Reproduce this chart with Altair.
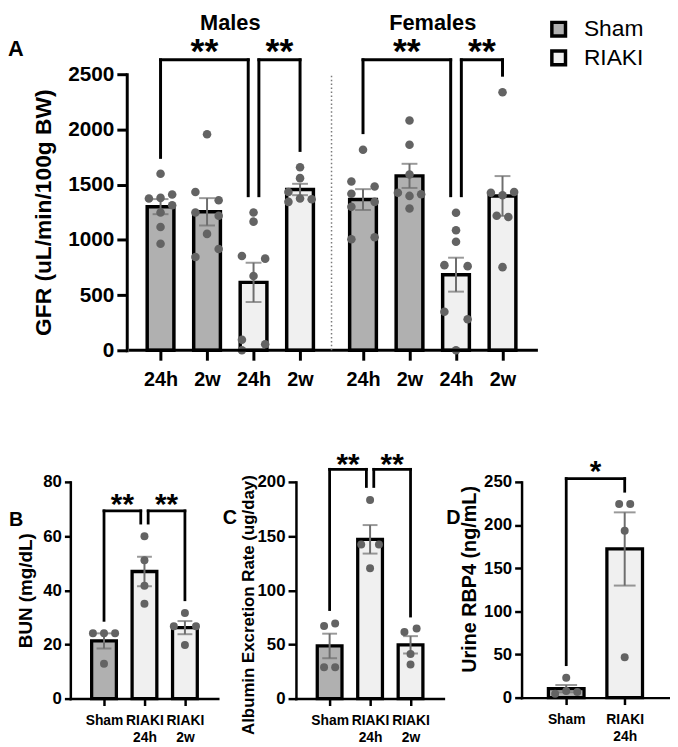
import json
import pandas as pd
import altair as alt

FONT = "Liberation Sans"
BLACK = "#000000"
SHAM_FILL = "#b0b0b0"
RIAKI_FILL = "#f0f0f0"
DOT_COLOR = "#636363"
ERR_COLOR = "#6e6e6e"

# ---------------- Panel A : GFR ----------------
sexes = ["Males", "Females"]
gfr_groups = ["Sham 24h", "Sham 2w", "RIAKI 24h", "RIAKI 2w"]
gfr_treat = ["Sham", "Sham", "RIAKI", "RIAKI"]
gfr_tick_labels = ["24h", "2w", "24h", "2w"]

m_sham_24h = [1598, 1410, 1380, 1374, 1314, 1248, 1117, 965]
m_sham_24h_col = [0, 1, 0, -1, 1, 0, 0, 0]
m_sham_2w = [1956, 1434, 1359, 1248, 1219, 1054, 917, 845]
m_sham_2w_col = [0, -1, 1, -1, 1, 0, 1, -1]
m_riaki_24h = [1248, 1165, 854, 830, 672, 96, 54, 0]
m_riaki_24h_col = [0, 0, -1, 1, 0, -1, 1, -1]
m_riaki_2w = [1658, 1559, 1434, 1374, 1368, 1344]
m_riaki_2w_col = [0, 0, -1, 0, 1, -1]

f_sham_24h = [1816, 1529, 1484, 1418, 1344, 1299, 1024, 1006]
f_sham_24h_col = [0, -1, 1, -1, 1, -1, 1, -1]
f_sham_2w = [2081, 1861, 1592, 1427, 1413, 1398, 1284]
f_sham_2w_col = [0, 0, 0, -1, 1, 0, 0]
f_riaki_24h = [1245, 1087, 983, 771, 762, 349, 281, 0]
f_riaki_24h_col = [0, 0, 0, -1, 1, -1, 1, 0]
f_riaki_2w = [2336, 1434, 1427, 1404, 1219, 1207, 753]
f_riaki_2w_col = [0, 1, -1, 0, -0.5, 0.5, 0]

gfr_br_sex = ["Males", "Males", "Females", "Females"]
gfr_br_from = ["Sham 24h", "RIAKI 24h", "Sham 24h", "RIAKI 24h"]
gfr_br_to = ["RIAKI 24h", "RIAKI 2w", "RIAKI 24h", "RIAKI 2w"]
gfr_br_top = [2630, 2630, 2630, 2630]
gfr_br_left_end = [1747, 1400, 1971, 1400]
gfr_br_right_end = [1400, 1810, 1400, 2491]
gfr_br_label = ["**", "**", "**", "**"]
gfr_y_ticks = [0, 500, 1000, 1500, 2000, 2500]

# ---------------- Panel B : BUN ----------------
bun_groups = ["Sham", "RIAKI 24h", "RIAKI 2w"]
bun_treat = ["Sham", "RIAKI", "RIAKI"]
bun_sham = [24.1, 24.1, 24.1, 12.9]
bun_sham_col = [-1, 0, 1, 0]
bun_riaki_24h = [59.9, 51.1, 41.7, 35.0]
bun_riaki_24h_col = [0, 0, 0, 0]
bun_riaki_2w = [31.6, 26.7, 26.7, 19.8]
bun_riaki_2w_col = [0, -1, 1, 0]
bun_br_from = ["Sham", "RIAKI 24h"]
bun_br_to = ["RIAKI 24h", "RIAKI 2w"]
bun_br_top = [69.3, 69.3]
bun_br_left_end = [28.9, 64.8]
bun_br_right_end = [64.8, 36.5]
bun_br_label = ["**", "**"]
bun_y_ticks = [0, 20, 40, 60, 80]

# ---------------- Panel C : Albumin ----------------
alb_groups = ["Sham", "RIAKI 24h", "RIAKI 2w"]
alb_treat = ["Sham", "RIAKI", "RIAKI"]
alb_sham = [67.0, 69.4, 29.0, 29.0]
alb_sham_col = [-0.5, 0.5, -0.5, 0.5]
alb_riaki_24h = [183.3, 142.2, 142.2, 120.3]
alb_riaki_24h_col = [0, -0.8, 0.8, 0]
alb_riaki_2w = [61.5, 64.6, 41.1, 31.4]
alb_riaki_2w_col = [-0.55, 0.55, 0, 0]
alb_br_from = ["Sham", "RIAKI 24h"]
alb_br_to = ["RIAKI 24h", "RIAKI 2w"]
alb_br_top = [211.6, 211.6]
alb_br_left_end = [82.2, 195.8]
alb_br_right_end = [195.8, 76.2]
alb_br_label = ["**", "**"]
alb_y_ticks = [0, 50, 100, 150, 200]

# ---------------- Panel D : RBP4 ----------------
rbp_groups = ["Sham", "RIAKI 24h"]
rbp_treat = ["Sham", "RIAKI"]
rbp_sham = [22.9, 4.6, 7.7, 6.5]
rbp_sham_col = [0, -1, 0, 1]
rbp_riaki_24h = [224.4, 224.4, 193.4, 46.9]
rbp_riaki_24h_col = [-0.5, 0.5, 0, 0]
rbp_br_from = ["Sham"]
rbp_br_to = ["RIAKI 24h"]
rbp_br_top = [253.8]
rbp_br_left_end = [38.2]
rbp_br_right_end = [239.2]
rbp_br_label = ["*"]
rbp_y_ticks = [0, 50, 100, 150, 200, 250]

treat_domain = ["Sham", "RIAKI"]
fill_scale = alt.Scale(domain=treat_domain, range=[SHAM_FILL, RIAKI_FILL])


def bracket_frame(keys_from, keys_to, pos_of, tops, lefts, rights, labels, gap):
    rows = []
    for i, (a, b) in enumerate(zip(keys_from, keys_to)):
        x1 = pos_of[a]
        x2 = pos_of[b]
        others_to = [keys_to[j] for j in range(len(keys_to)) if j != i]
        others_from = [keys_from[j] for j in range(len(keys_from)) if j != i]
        if a in others_to:
            x1 += gap
        if b in others_from:
            x2 -= gap
        rows.append(dict(x1=x1, x2=x2, xm=(x1 + x2) / 2, ytop=tops[i],
                         yl=lefts[i], yr=rights[i], label=labels[i]))
    return pd.DataFrame(rows)


def bracket_layers(df, X, Y, width, star_size, star_dy):
    base = alt.Chart(df)
    left = base.mark_rule(color=BLACK, strokeWidth=width, strokeCap="square").encode(
        x=X("x1"), y=Y("yl"), y2="ytop")
    right = base.mark_rule(color=BLACK, strokeWidth=width, strokeCap="square").encode(
        x=X("x2"), y=Y("yr"), y2="ytop")
    top = base.mark_rule(color=BLACK, strokeWidth=width, strokeCap="square").encode(
        x=X("x1"), x2="x2", y=Y("ytop"))
    txt = base.mark_text(fontSize=star_size, fontWeight="bold", font=FONT, color=BLACK,
                         baseline="alphabetic", align="center", dy=star_dy).encode(
        x=X("xm"), y=Y("ytop"), text="label:N")
    return [left, right, top, txt]


def letter_layer(letter, x_px, y_px, size):
    return alt.Chart(pd.DataFrame({"t": [letter]})).mark_text(
        fontSize=size, fontWeight="bold", font=FONT, color=BLACK, align="left",
        baseline="middle").encode(x=alt.value(x_px), y=alt.value(y_px), text="t:N")


# ---------- build panel A ----------
FEMALE_SHIFT = 4.354
A_STEP = 48.0
A_INDENT = 57  # px between the lower row's left edge and panel A's y axis
gfr_data = {
    ("Males", "Sham 24h"): (m_sham_24h, m_sham_24h_col),
    ("Males", "Sham 2w"): (m_sham_2w, m_sham_2w_col),
    ("Males", "RIAKI 24h"): (m_riaki_24h, m_riaki_24h_col),
    ("Males", "RIAKI 2w"): (m_riaki_2w, m_riaki_2w_col),
    ("Females", "Sham 24h"): (f_sham_24h, f_sham_24h_col),
    ("Females", "Sham 2w"): (f_sham_2w, f_sham_2w_col),
    ("Females", "RIAKI 24h"): (f_riaki_24h, f_riaki_24h_col),
    ("Females", "RIAKI 2w"): (f_riaki_2w, f_riaki_2w_col),
}
rows = []
pos_of_A = {}
tick_pos = []
tick_lab = []
for sex, shift in zip(sexes, [0.0, FEMALE_SHIFT]):
    for gi, g in enumerate(gfr_groups):
        p = round(gi + shift, 3)
        pos_of_A[(sex, g)] = p
        tick_pos.append(p)
        tick_lab.append(gfr_tick_labels[gi])
        vals, cols = gfr_data[(sex, g)]
        for v, c in zip(vals, cols):
            rows.append(dict(sex=sex, group=g, treat=gfr_treat[gi], pos=p, value=v, col=c))
gfr_df = pd.DataFrame(rows)

A_AXIS_LEFT = -0.646
A_AXIS_RIGHT = 8.083
xA_scale = alt.Scale(domain=[A_AXIS_LEFT - A_INDENT / A_STEP, A_AXIS_RIGHT], nice=False, zero=False)
yA_scale = alt.Scale(domain=[gfr_y_ticks[0], gfr_y_ticks[-1]], nice=False)
xA_axis = alt.Axis(values=tick_pos,
                   labelExpr=f"{json.dumps(tick_lab)}[indexof({json.dumps(tick_pos)}, datum.value)]",
                   title=None, domain=False, tickSize=10, tickWidth=3, labelFontSize=20,
                   labelPadding=10, labelFlush=False, labelOverlap=False, grid=False)
yA_axis = alt.Axis(values=gfr_y_ticks, format="d", title="GFR (uL/min/100g BW)", tickSize=10,
                   tickWidth=3, domainWidth=3, domainCap="square", labelFontSize=21,
                   labelPadding=3, titleFontSize=23, titlePadding=12, labelFlush=False,
                   grid=False, offset=-A_INDENT)


def XA(f):
    return alt.X(f"{f}:Q", scale=xA_scale, axis=xA_axis)


def YA(f):
    return alt.Y(f"{f}:Q", scale=yA_scale, axis=yA_axis, stack=None)


baseA = alt.Chart(gfr_df)
legendA = alt.Legend(orient="none", legendX=482, legendY=-57, title=None, symbolType="square",
                     symbolSize=190, symbolStrokeColor=BLACK, symbolStrokeWidth=3.5,
                     symbolOpacity=1, labelFontSize=23, labelFont=FONT, labelFontWeight="normal",
                     labelColor=BLACK, labelOffset=14, rowPadding=0, padding=0)
barsA = baseA.transform_aggregate(m="mean(value)", groupby=["pos", "treat"]).mark_bar(
    size=27, stroke=BLACK, strokeWidth=3.5).encode(
    x=XA("pos"), y=YA("m"), fill=alt.Fill("treat:N", scale=fill_scale, legend=legendA))
errA = baseA.transform_aggregate(m="mean(value)", se="stderr(value)", groupby=["pos"]).transform_calculate(
    lo="datum.m - datum.se", hi="datum.m + datum.se")
stemA = errA.mark_rule(color=ERR_COLOR, strokeWidth=2).encode(x=XA("pos"), y=YA("lo"), y2="hi")
capsA = errA.transform_fold(["lo", "hi"], as_=["end", "yv"]).mark_tick(
    orient="horizontal", size=16, thickness=2, color=ERR_COLOR).encode(x=XA("pos"), y=YA("yv"))
ptsA = baseA.transform_calculate(jx=f"datum.pos + datum.col * {12 / A_STEP}").mark_circle(
    size=75, color=DOT_COLOR, opacity=1).encode(x=XA("jx"), y=YA("value"))

# x-axis base line (drawn from the y axis to the right end)
base_df = pd.DataFrame({"x0": [A_AXIS_LEFT], "x1": [A_AXIS_RIGHT], "y": [gfr_y_ticks[0]]})
baseLineA = alt.Chart(base_df).mark_rule(color=BLACK, strokeWidth=3, strokeCap="square").encode(
    x=XA("x0"), x2="x1", y=YA("y"))

div_df = pd.DataFrame({"x": [(tick_pos[3] + tick_pos[4]) / 2], "y0": [gfr_y_ticks[0]],
                       "y1": [gfr_y_ticks[-1]]})
divA = alt.Chart(div_df).mark_rule(color="#7a7a7a", strokeWidth=1.5, strokeDash=[1.5, 2.5]).encode(
    x=XA("x"), y=YA("y0"), y2="y1")

sex_df = pd.DataFrame({"sex": sexes,
                       "xc": [sum(tick_pos[0:4]) / 4, sum(tick_pos[4:8]) / 4]})
sexA = alt.Chart(sex_df).mark_text(fontSize=22, fontWeight="bold", font=FONT, color=BLACK,
                                   baseline="middle").encode(
    x=XA("xc"), y=alt.value(-52), text="sex:N")

brA_df = bracket_frame([(s, a) for s, a in zip(gfr_br_sex, gfr_br_from)],
                       [(s, b) for s, b in zip(gfr_br_sex, gfr_br_to)],
                       pos_of_A, gfr_br_top, gfr_br_left_end, gfr_br_right_end, gfr_br_label,
                       5.5 / A_STEP)
brA = bracket_layers(brA_df, XA, YA, 3, 36, 3)

panelA = alt.layer(barsA, stemA, capsA, ptsA, baseLineA, divA, *brA, sexA,
                   letter_layer("A", -63, -25, 22)).properties(width=476, height=279)


# ---------- small panels ----------
def small_panel(groups, treats, series, cols, br_from, br_to, br_top, br_left, br_right, br_label,
                y_title, y_ticks, width, height, x_domain, step_px, bar_size, cap_px,
                y_tick_size, y_label_size, y_title_size, y_title_pad, y_title_y, star_size,
                star_dy, letter, letter_x, letter_y):
    rows = []
    pos_of = {}
    for gi, g in enumerate(groups):
        pos_of[g] = gi
        for v, c in zip(series[gi], cols[gi]):
            rows.append(dict(group=g, treat=treats[gi], pos=gi, value=v, col=c))
    df = pd.DataFrame(rows)
    xs = alt.Scale(domain=x_domain, nice=False, zero=False)
    ys = alt.Scale(domain=[y_ticks[0], y_ticks[-1]], nice=False)
    xa = alt.Axis(values=list(range(len(groups))),
                  labelExpr=f"split({json.dumps(groups)}[round(datum.value)], ' ')",
                  title=None, tickSize=7, tickWidth=2.5, domainWidth=2.5, domainCap="square",
                  labelFontSize=14, labelPadding=8, labelLineHeight=17, labelFlush=False,
                  labelOverlap=False, grid=False)
    ya_kw = dict(values=y_ticks, format="d", title=y_title, tickSize=y_tick_size, tickWidth=2.5,
                 domainWidth=2.5, domainCap="square", labelFontSize=y_label_size,
                 labelPadding=3, titleFontSize=y_title_size, titlePadding=y_title_pad,
                 labelFlush=False, grid=False)
    if y_title_y is not None:
        ya_kw["titleY"] = y_title_y
    ya = alt.Axis(**ya_kw)

    def X(f):
        return alt.X(f"{f}:Q", scale=xs, axis=xa)

    def Y(f):
        return alt.Y(f"{f}:Q", scale=ys, axis=ya, stack=None)

    base = alt.Chart(df)
    bars = base.transform_aggregate(m="mean(value)", groupby=["pos", "treat"]).mark_bar(
        size=bar_size, stroke=BLACK, strokeWidth=3.3).encode(
        x=X("pos"), y=Y("m"), fill=alt.Fill("treat:N", scale=fill_scale, legend=None))
    err = base.transform_aggregate(m="mean(value)", se="stderr(value)", groupby=["pos"]).transform_calculate(
        lo="datum.m - datum.se", hi="datum.m + datum.se")
    stem = err.mark_rule(color=ERR_COLOR, strokeWidth=2).encode(x=X("pos"), y=Y("lo"), y2="hi")
    caps = err.transform_fold(["lo", "hi"], as_=["end", "yv"]).mark_tick(
        orient="horizontal", size=cap_px, thickness=2, color=ERR_COLOR).encode(x=X("pos"), y=Y("yv"))
    pts = base.transform_calculate(jx=f"datum.pos + datum.col * {12 / step_px}").mark_circle(
        size=65, color=DOT_COLOR, opacity=1).encode(x=X("jx"), y=Y("value"))
    br_df = bracket_frame(br_from, br_to, pos_of, br_top, br_left, br_right, br_label,
                          4 / step_px)
    br = bracket_layers(br_df, X, Y, 2.8, star_size, star_dy)
    return alt.layer(bars, stem, caps, pts, *br, letter_layer(letter, letter_x, letter_y, 20)).properties(
        width=width, height=height)


panelB = small_panel(bun_groups, bun_treat, [bun_sham, bun_riaki_24h, bun_riaki_2w],
                     [bun_sham_col, bun_riaki_24h_col, bun_riaki_2w_col],
                     bun_br_from, bun_br_to, bun_br_top, bun_br_left_end, bun_br_right_end,
                     bun_br_label, "BUN (mg/dL)", bun_y_ticks, 149, 219, [-0.71, 2.69], 43.8,
                     25, 15, 6, 17, 19, 7, None, 30, 3, "B", -62, 39)
panelC = small_panel(alb_groups, alb_treat, [alb_sham, alb_riaki_24h, alb_riaki_2w],
                     [alb_sham_col, alb_riaki_24h_col, alb_riaki_2w_col],
                     alb_br_from, alb_br_to, alb_br_top, alb_br_left_end, alb_br_right_end,
                     alb_br_label, "Albumin Excretion Rate (ug/day)", alb_y_ticks, 149, 219,
                     [-0.71, 2.69], 43.8, 25, 15, 8, 17, 17, 0, 124, 30, 5, "C", -74, 37)
panelD = small_panel(rbp_groups, rbp_treat, [rbp_sham, rbp_riaki_24h],
                     [rbp_sham_col, rbp_riaki_24h_col],
                     rbp_br_from, rbp_br_to, rbp_br_top, rbp_br_left_end, rbp_br_right_end,
                     rbp_br_label, "Urine RBP4 (ng/mL)", rbp_y_ticks, 150, 218, [-0.679, 1.69],
                     63.3, 36, 22, 7, 17, 20, 4, 98, 30, 2, "D", -76, 37)

bottom_row = alt.hconcat(panelB, panelC, panelD, spacing=79, bounds="flush").resolve_scale(
    fill="independent")

chart = alt.vconcat(panelA, bottom_row, spacing=133, bounds="flush", padding=0).resolve_scale(
    fill="independent").configure_view(stroke=None).configure_axis(
    labelFont=FONT, titleFont=FONT, labelColor=BLACK, titleColor=BLACK, domainColor=BLACK,
    tickColor=BLACK, labelFontWeight="bold", titleFontWeight="bold", grid=False).configure_text(
    font=FONT)

chart.save("out.html", embed_options={"renderer": "svg", "actions": False})
